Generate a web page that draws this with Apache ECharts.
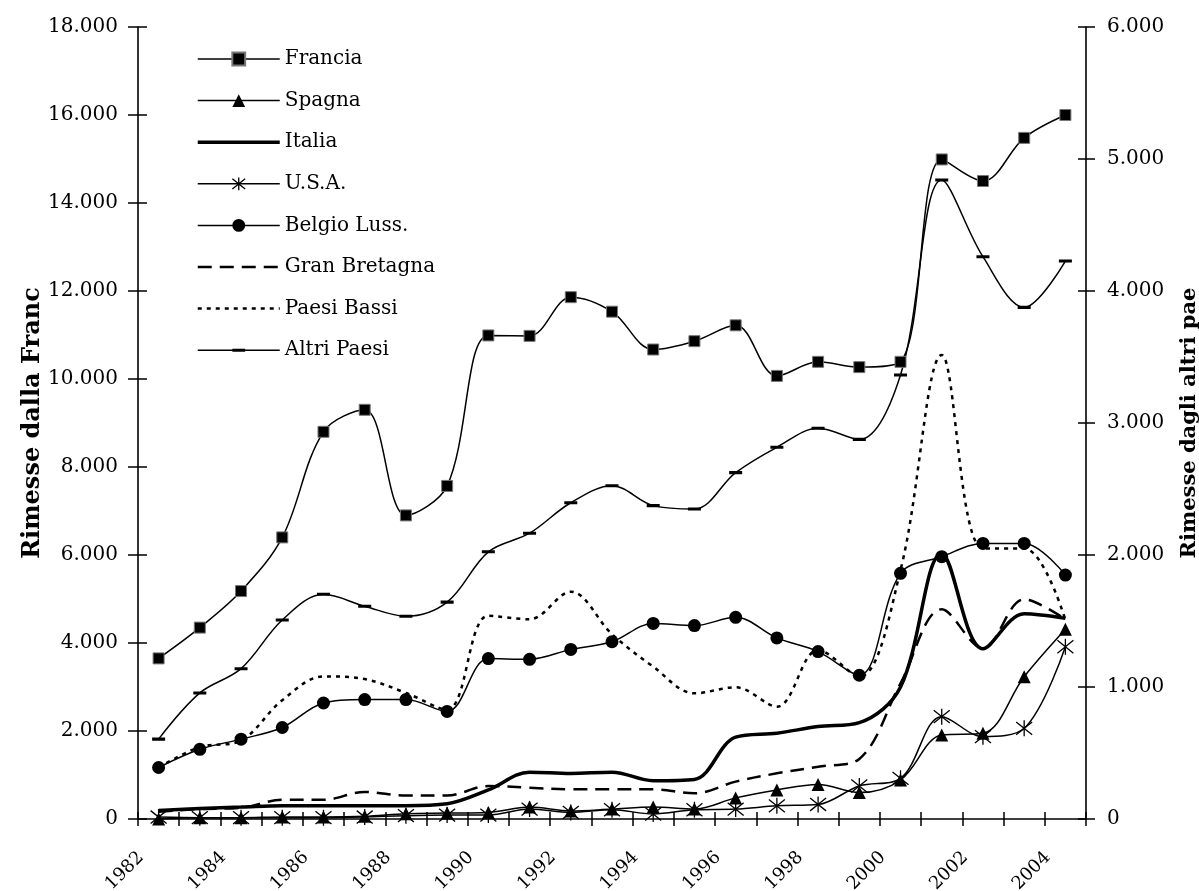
<!DOCTYPE html>
<html>
<head>
<meta charset="utf-8">
<script src="https://cdn.jsdelivr.net/npm/echarts@6/dist/echarts.min.js"></script>
<style>
html,body{margin:0;padding:0;background:#fff;}
#chart{width:1199px;height:891px;}
</style>
</head>
<body>
<div id="chart"></div>
<script>
var years = ['1982','1983','1984','1985','1986','1987','1988','1989','1990','1991','1992','1993','1994','1995','1996','1997','1998','1999','2000','2001','2002','2003','2004'];
// Left axis (Rimesse dalla Francia)
var francia = [3650,4350,5180,6400,8800,9300,6900,7570,10990,10980,11860,11530,10670,10860,11220,10070,10390,10270,10390,14990,14500,15480,16000];
// Right axis (Rimesse dagli altri paesi)
var spagna = [0,10,10,15,15,20,40,45,50,90,60,75,90,75,160,220,262,200,295,636,649,1078,1437];
var italia = [65,80,90,100,100,100,100,115,220,355,345,355,290,300,620,650,700,730,1000,2010,1290,1555,1520];
var usa = [15,10,10,10,10,15,25,30,30,75,50,70,38,70,75,100,110,250,308,775,624,687,1305];
var belgio = [390,528,605,693,879,905,905,815,1215,1210,1285,1343,1482,1465,1528,1372,1268,1089,1861,1987,2088,2088,1848];
var granBretagna = [55,75,85,145,145,205,178,178,250,237,225,225,225,195,283,346,396,455,1028,1589,1293,1664,1513];
var paesiBassi = [390,545,595,900,1080,1060,955,828,1540,1513,1722,1400,1154,952,998,851,1280,1078,1886,3515,2050,2050,1508];
var altriPaesi = [605,955,1139,1508,1702,1612,1536,1643,2024,2165,2396,2525,2374,2348,2624,2816,2960,2876,3364,4841,4260,3876,4227];

var FONT = 'DejaVu Serif';
function fmt(v){ return String(v).replace(/\B(?=(\d{3})+(?!\d))/g, '.'); }

var starPath = 'path://M0,-10 L0,10 M-8,-8 L8,8 M-8,8 L8,-8';
var dashPath = 'path://M0,4.6 L12,4.6 L12,7.4 L0,7.4 Z M0,0 L0.01,0 L0,0.01 Z M12,12 L11.99,12 L12,11.99 Z';

var thin = {color:'#000', width:1.5};
function base(name, data, yIdx, extra){
  var s = {name:name, type:'line', data:data, xAxisIndex:0, yAxisIndex:yIdx, smooth:0.35,
    symbol:'none', lineStyle:thin, itemStyle:{color:'#000'}, emphasis:{disabled:true}, z:2};
  for (var k in extra) s[k] = extra[k];
  return s;
}

var series = [
  base('Francia', francia, 0, {symbol:'rect', symbolSize:11, itemStyle:{color:'#000', borderColor:'#777', borderWidth:1}}),
  base('Spagna', spagna, 1, {symbol:'triangle', symbolSize:13}),
  base('Italia', italia, 1, {lineStyle:{color:'#000', width:3.5}}),
  base('U.S.A.', usa, 1, {symbol:starPath, symbolSize:16, itemStyle:{color:'#000', borderColor:'#000', borderWidth:1.3}}),
  base('Belgio Luss.', belgio, 1, {symbol:'circle', symbolSize:13}),
  base('Gran Bretagna', granBretagna, 1, {lineStyle:{color:'#000', width:2.5, type:[14,8]}}),
  base('Paesi Bassi', paesiBassi, 1, {lineStyle:{color:'#000', width:2.5, type:[4,5]}}),
  base('Altri Paesi', altriPaesi, 1, {symbol:dashPath, symbolSize:13})
];

var legendData = [
  {name:'Francia', lineStyle:{width:1.5}},
  {name:'Spagna', lineStyle:{width:1.5}},
  {name:'Italia', lineStyle:{width:3.5}, itemStyle:{opacity:0}},
  {name:'U.S.A.', lineStyle:{width:1.5}, itemStyle:{borderWidth:1.3}},
  {name:'Belgio Luss.', lineStyle:{width:1.5}},
  {name:'Gran Bretagna', lineStyle:{width:2.5}, itemStyle:{opacity:0}},
  {name:'Paesi Bassi', lineStyle:{width:2.5}, itemStyle:{opacity:0}},
  {name:'Altri Paesi', lineStyle:{width:1.5}}
];

var axisLineStyle = {show:true, lineStyle:{color:'#000', width:1.6}};
var option = {
  animation:false,
  backgroundColor:'#fff',
  grid:{left:138, right:113, top:27, bottom:72, containLabel:false, outerBoundsMode:'none'},
  legend:{
    orient:'vertical', left:196, top:49, padding:0, itemWidth:82, itemHeight:16, itemGap:21.6,
    textStyle:{fontFamily:FONT, fontSize:20, color:'#000'},
    data:legendData, selectedMode:false
  },
  xAxis:[
    {type:'category', data:years, boundaryGap:true, position:'bottom',
      axisLine:axisLineStyle,
      axisTick:{show:true, alignWithLabel:false, interval:0, length:7, lineStyle:{color:'#000', width:1.5}},
      axisLabel:{interval:1, rotate:45, margin:18, padding:[0,25,0,0], fontFamily:FONT, fontSize:18, color:'#000'},
      splitLine:{show:false}},
    {type:'category', data:years, boundaryGap:true, position:'bottom',
      axisLine:{show:false},
      axisTick:{show:true, inside:true, interval:0, length:7, lineStyle:{color:'#000', width:1.5}},
      axisLabel:{show:false}, splitLine:{show:false}}
  ],
  yAxis:[
    {type:'value', min:0, max:18000, interval:2000, position:'left',
      name:'Rimesse dalla Franc', nameLocation:'middle', nameRotate:90, nameGap:93, nameMoveOverlap:false,
      nameTextStyle:{fontFamily:FONT, fontWeight:'bold', fontSize:24, color:'#000'},
      axisLine:axisLineStyle,
      axisTick:{show:true, length:10, lineStyle:{color:'#000', width:1.5}},
      axisLabel:{formatter:fmt, margin:20, fontFamily:FONT, fontSize:20, color:'#000'},
      splitLine:{show:false}},
    {type:'value', min:0, max:6000, interval:1000, position:'right',
      name:'Rimesse dagli altri pae', nameLocation:'middle', nameRotate:90, nameGap:93, nameMoveOverlap:false,
      nameTextStyle:{fontFamily:FONT, fontWeight:'bold', fontSize:21, color:'#000'},
      axisLine:axisLineStyle,
      axisTick:{show:true, length:9, lineStyle:{color:'#000', width:1.5}},
      axisLabel:{formatter:fmt, margin:21, fontFamily:FONT, fontSize:20, color:'#000'},
      splitLine:{show:false}},
    {type:'value', min:0, max:18000, interval:2000, position:'left',
      axisLine:{show:false}, axisTick:{show:true, inside:true, length:9, lineStyle:{color:'#000', width:1.5}},
      axisLabel:{show:false}, splitLine:{show:false}},
    {type:'value', min:0, max:6000, interval:1000, position:'right',
      axisLine:{show:false}, axisTick:{show:true, inside:true, length:8, lineStyle:{color:'#000', width:1.5}},
      axisLabel:{show:false}, splitLine:{show:false}}
  ],
  series:series
};
var chart = echarts.init(document.getElementById('chart'), null, {renderer:'canvas'});
chart.setOption(option);
</script>
</body>
</html>
